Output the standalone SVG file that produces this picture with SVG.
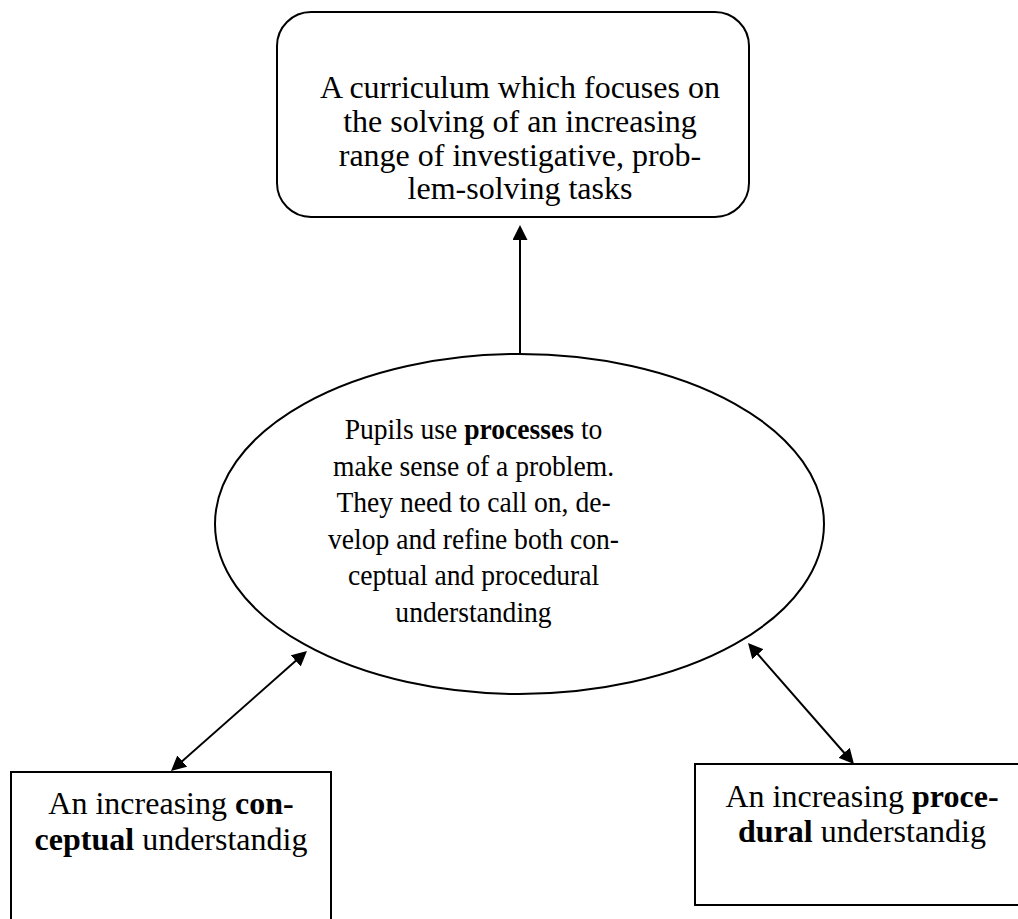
<svg xmlns="http://www.w3.org/2000/svg" width="1018" height="919" viewBox="0 0 1018 919">
  <style>
    .shape { fill: #ffffff; stroke: #000000; stroke-width: 2; }
    .label { font-family: "Liberation Serif", "Times New Roman", serif; fill: #000000; text-anchor: middle; }
    .big { font-size: 32px; }
    .mid { font-size: 30px; }
    .b { font-weight: bold; }
    .edge { stroke: #000000; stroke-width: 2; fill: none; }
  </style>
  <defs>
    <marker id="head" viewBox="0 0 15 15" refX="5" refY="7.5" markerWidth="15" markerHeight="15" markerUnits="userSpaceOnUse" orient="auto-start-reverse">
      <path d="M0,0 L15,7.5 L0,15 z" fill="#000000"/>
    </marker>
  </defs>
  <rect width="1018" height="919" fill="#ffffff"/>

  <!-- connectors -->
  <g id="connectors">
    <line class="edge" x1="520" y1="354" x2="520" y2="235" marker-end="url(#head)"/>
    <line class="edge" x1="178.5" y1="764.4" x2="299.5" y2="657.6" marker-start="url(#head)" marker-end="url(#head)"/>
    <line class="edge" x1="754.6" y1="650.5" x2="847.4" y2="756.5" marker-start="url(#head)" marker-end="url(#head)"/>
  </g>

  <!-- curriculum box -->
  <g id="curriculum">
    <rect class="shape" x="277" y="12" width="472" height="205" rx="34" ry="34"/>
    <text class="label big" x="520" y="98">A curriculum which focuses on</text>
    <text class="label big" x="520" y="132">the solving of an increasing</text>
    <text class="label big" x="520" y="166">range of investigative, prob-</text>
    <text class="label big" x="520" y="199">lem-solving tasks</text>
  </g>

  <!-- processes ellipse -->
  <g id="processes">
    <ellipse class="shape" cx="519.5" cy="524" rx="304.5" ry="170"/>
    <g transform="translate(473.5 0) scale(0.92 1)">
      <text class="label mid" x="0" y="439">Pupils use <tspan class="b">processes</tspan> to</text>
      <text class="label mid" x="0" y="476">make sense of a problem.</text>
      <text class="label mid" x="0" y="512">They need to call on, de-</text>
      <text class="label mid" x="0" y="549">velop and refine both con-</text>
      <text class="label mid" x="0" y="585">ceptual and procedural</text>
      <text class="label mid" x="0" y="622">understanding</text>
    </g>
  </g>

  <!-- conceptual box -->
  <g id="conceptual">
    <rect class="shape" x="11" y="772" width="320" height="170"/>
    <text class="label big" x="171" y="814">An increasing <tspan class="b">con-</tspan></text>
    <text class="label big" x="171" y="850"><tspan class="b">ceptual</tspan> understandig</text>
  </g>

  <!-- procedural box -->
  <g id="procedural">
    <rect class="shape" x="695" y="764" width="340" height="141"/>
    <text class="label big" x="862" y="807">An increasing <tspan class="b">proce-</tspan></text>
    <text class="label big" x="862" y="842"><tspan class="b">dural</tspan> understandig</text>
  </g>
</svg>
